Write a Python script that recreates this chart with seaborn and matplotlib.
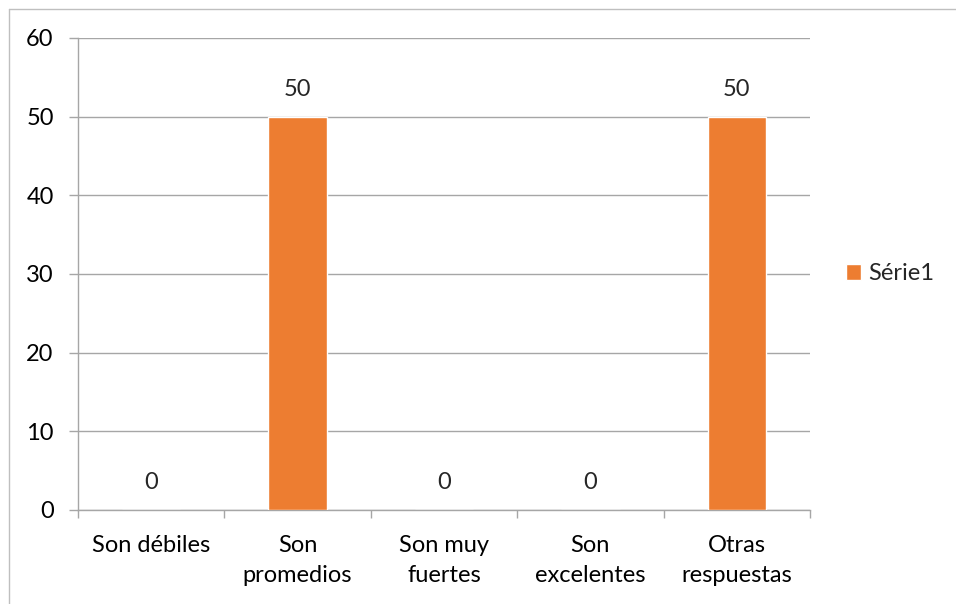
import matplotlib
matplotlib.use('Agg')
import matplotlib.pyplot as plt
import seaborn as sns
import pandas as pd

categories = ['Son débiles', 'Son\npromedios', 'Son muy\nfuertes', 'Son\nexcelentes', 'Otras\nrespuestas']
values = [0, 50, 0, 0, 50]
series_name = 'Série1'

df = pd.DataFrame({'cat': categories, 'val': values})

sns.set_style('white')
plt.rcParams['font.family'] = ['Lato', 'DejaVu Sans']
fs = 17

fig = plt.figure(figsize=(9.56, 6.04), dpi=100)
ax = fig.add_axes([78 / 956, 1 - 510 / 604, (810 - 78) / 956, (510 - 38) / 604])

sns.barplot(data=df, x='cat', y='val', color='#ED7D31', width=0.4,
            saturation=1, label=series_name, ax=ax, zorder=3)

ax.set_ylim(0, 60)
ax.set_yticks(range(0, 61, 10))
ax.set_xlim(-0.5, len(categories) - 0.5)
ax.grid(axis='y', color='#A6A6A6', linewidth=1, zorder=0)
ax.set_xlabel('')
ax.set_ylabel('')

for s in ['top', 'right']:
    ax.spines[s].set_visible(False)
for s in ['left', 'bottom']:
    ax.spines[s].set_color('#A6A6A6')
    ax.spines[s].set_linewidth(1)

# category ticks sit between bars, like Excel
ax.set_xticks(range(len(categories)))
ax.set_xticklabels(categories)
ax.tick_params(axis='x', bottom=True, length=0, pad=18, labelsize=fs, colors='black')
ax.set_xticks([i - 0.5 for i in range(len(categories) + 1)], minor=True)
ax.tick_params(axis='x', which='minor', bottom=True, length=6, color='#A6A6A6', width=1)
ax.tick_params(axis='y', left=True, length=6.5, color='#A6A6A6', width=1,
               labelsize=fs, pad=11, labelcolor='black')
for lbl in ax.get_xticklabels():
    lbl.set_linespacing(1.55)

for i, v in enumerate(values):
    ax.text(i, v + 3.5, str(v), ha='center', va='center', fontsize=fs)

leg = ax.legend(loc='center left', bbox_to_anchor=(1.02, 0.5), frameon=False,
                fontsize=fs, handlelength=0.65, handleheight=0.65, handletextpad=0.3)

# outer chart border
fig.add_artist(plt.Line2D([9 / 956, 9 / 956], [0, 1 - 9 / 604], color='#BFBFBF', lw=1))
fig.add_artist(plt.Line2D([9 / 956, 1], [1 - 9 / 604, 1 - 9 / 604], color='#BFBFBF', lw=1))

fig.savefig('out.png', dpi=100)
